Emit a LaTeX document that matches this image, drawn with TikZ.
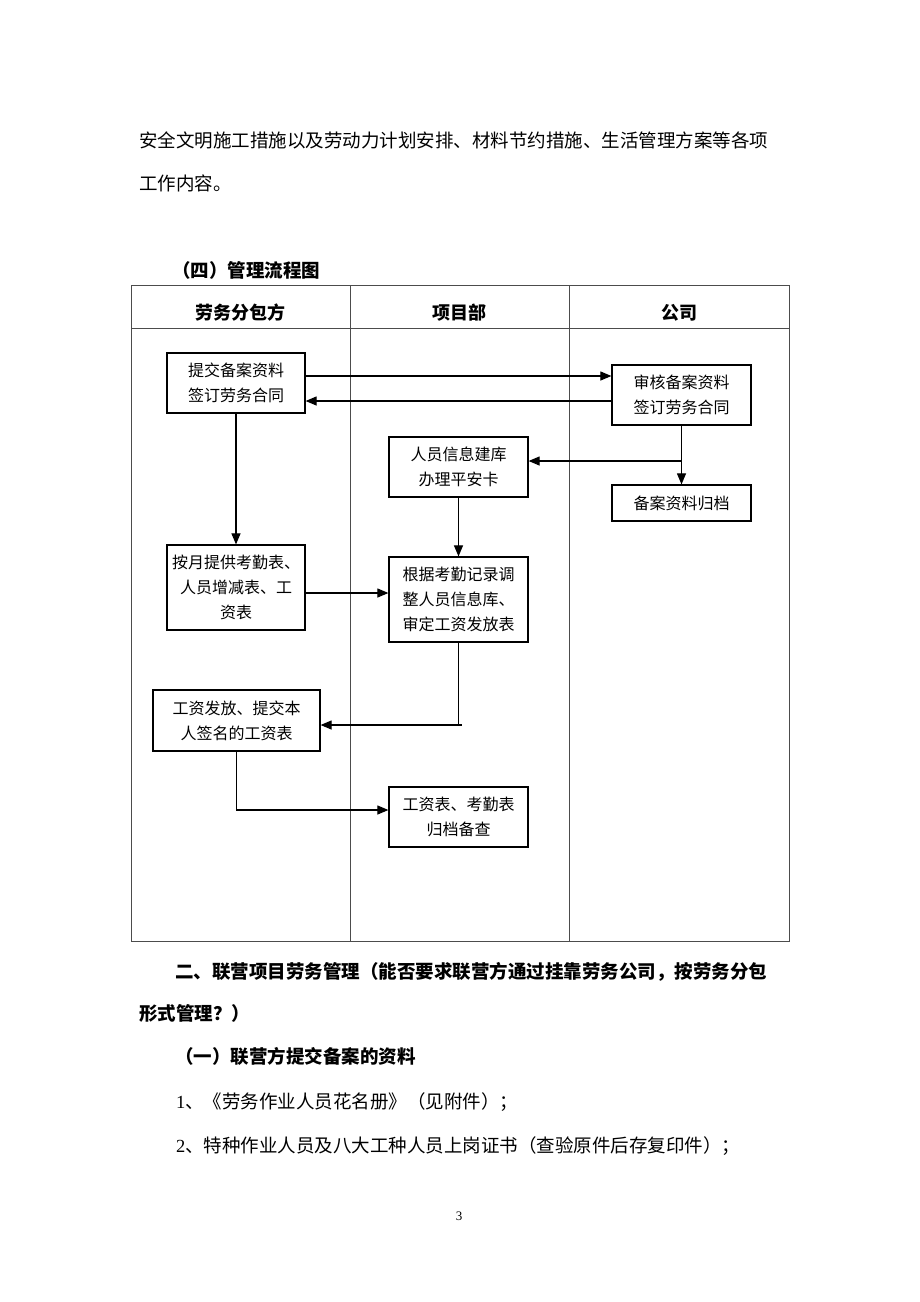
\documentclass[tikz,border=0pt]{standalone}
\usepackage{fontspec}
\setmainfont{Liberation Serif}
\newfontfamily\cjk{Noto Sans CJK SC}
\usetikzlibrary{arrows.meta}
\begin{document}
\begin{tikzpicture}[x=1pt,y=-1pt,
  flowbox/.style={draw=black,line width=1.2pt,inner sep=0pt,align=center,
    font=\cjk\fontsize{16}{25}\selectfont},
  arr/.style={line width=1.1pt,-{Triangle[length=11pt,width=9pt]}},
  link/.style={line width=1.1pt},
  gridline/.style={draw=black!70,line width=1pt},
  body/.style={anchor=west,inner sep=0pt,font=\cjk\fontsize{18.5}{20}\selectfont},
  bodybold/.style={anchor=west,inner sep=0pt,font=\cjk\bfseries\fontsize{18.5}{20}\selectfont},
  colhead/.style={inner sep=0pt,font=\cjk\bfseries\fontsize{18}{20}\selectfont}]
\fill[white] (0,0) rectangle (920,1302);
\useasboundingbox (0,0) rectangle (920,1302);

% text above
\node[body] (t1) at (139,140) {安全文明施工措施以及劳动力计划安排、材料节约措施、生活管理方案等各项};
\node[body] (t2) at (139,183) {工作内容。};
\node[bodybold] (t3) at (172,270) {（四）管理流程图};

% table
\draw[gridline] (131,285) rectangle (789,941);
\draw[gridline] (131,328) -- (789,328);
\draw[gridline] (350,285) -- (350,941);
\draw[gridline] (569,285) -- (569,941);
\node[colhead] (h1) at (240.5,313) {劳务分包方};
\node[colhead] (h2) at (459.5,313) {项目部};
\node[colhead] (h3) at (679,313) {公司};

% boxes
\node[flowbox,minimum width=138pt,minimum height=60pt] (A1) at (236,383) {提交备案资料\\签订劳务合同};
\node[flowbox,minimum width=139pt,minimum height=60pt] (C1) at (681.5,395) {审核备案资料\\签订劳务合同};
\node[flowbox,minimum width=139pt,minimum height=60pt] (B1) at (458.5,467) {人员信息建库\\办理平安卡};
\node[flowbox,minimum width=139pt,minimum height=36pt] (C2) at (681.5,503) {备案资料归档};
\node[flowbox,minimum width=138pt,minimum height=85pt] (A2) at (236,587.5) {按月提供考勤表、\\人员增减表、工\\资表};
\node[flowbox,minimum width=139pt,minimum height=85pt] (B2) at (458.5,599.5) {根据考勤记录调\\整人员信息库、\\审定工资发放表};
\node[flowbox,minimum width=167pt,minimum height=61pt] (A3) at (236.5,720.5) {工资发放、提交本\\人签名的工资表};
\node[flowbox,minimum width=139pt,minimum height=60pt] (B3) at (458.5,817) {工资表、考勤表\\归档备查};

% connectors
\draw[arr] ([yshift=7pt]A1.east) -- ([yshift=7pt]A1.east -| C1.west);
\draw[arr] ([yshift=-6pt]C1.west) -- ([yshift=-6pt]C1.west -| A1.east);
\draw[arr] (A1.south) -- (A2.north);
\draw[arr] (C1.south) -- (C2.north);
\coordinate (b1r) at ([yshift=6pt]B1.east);
\draw[arr] (C1.south |- b1r) -- (b1r);
\draw[arr] (B1.south) -- (B2.north);
\draw[arr] ([yshift=-5.5pt]A2.east) -- ([yshift=-5.5pt]A2.east -| B2.west);
\coordinate (a3r) at ([yshift=-4.5pt]A3.east);
\draw[link] (B2.south) -- (B2.south |- a3r);
\draw[arr] ([xshift=3pt]B2.south |- a3r) -- (a3r);
\coordinate (b3l) at ([yshift=7pt]B3.west);
\draw[arr] (A3.south) -- (A3.south |- b3l) -- (b3l);

% text below
\node[bodybold] (t4) at (175,972) {二、联营项目劳务管理（能否要求联营方通过挂靠劳务公司，按劳务分包};
\node[bodybold] (t5) at (139,1013) {形式管理？）};
\node[bodybold] (t6) at (175,1056) {（一）联营方提交备案的资料};
\node[body] (t7) at (176,1102) {\fontspec{Liberation Serif}1\cjk、《劳务作业人员花名册》（见附件）；};
\node[body] (t8) at (176,1146) {\fontspec{Liberation Serif}2\cjk、特种作业人员及八大工种人员上岗证书（查验原件后存复印件）；};
\node[inner sep=0pt,font=\fontsize{13}{15}\selectfont] (pg) at (459,1216) {3};
\end{tikzpicture}
\end{document}
